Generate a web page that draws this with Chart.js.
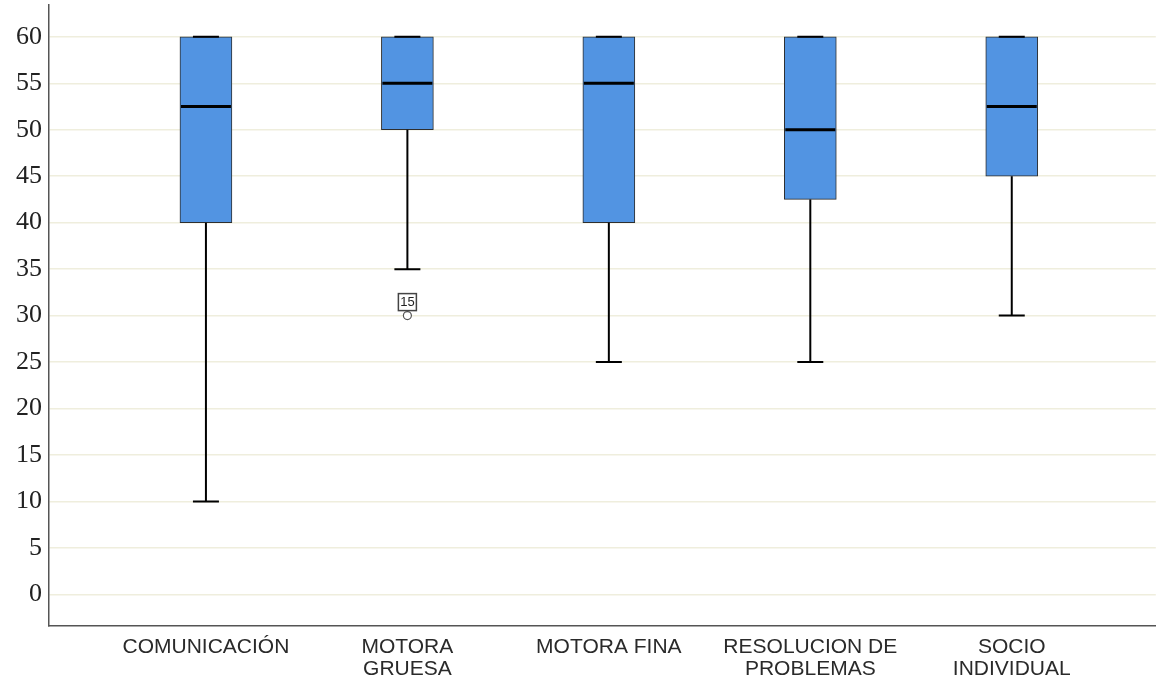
<!DOCTYPE html>
<html>
<head>
<meta charset="utf-8">
<script src="https://cdn.jsdelivr.net/npm/chart.js@4"></script>
<style>
  html, body { margin: 0; padding: 0; background: #fff; overflow: hidden; }
  #wrap { width: 1161px; height: 681px; }
</style>
</head>
<body>
<div id="wrap"><canvas id="box"></canvas></div>
<script>
const categories = ['COMUNICACIÓN', ['MOTORA', 'GRUESA'], 'MOTORA FINA', ['RESOLUCION DE', 'PROBLEMAS'], ['SOCIO', 'INDIVIDUAL']];
const minVals = [10, 35, 25, 25, 30];
const q1Vals = [40, 50, 40, 42.5, 45];
const medianVals = [52.5, 55, 55, 50, 52.5];
const q3Vals = [60, 60, 60, 60, 60];
const maxVals = [60, 60, 60, 60, 60];
// outliers: category index, value, case label
const outliers = [{ cat: 1, value: 30, label: '15' }];
const yTicks = [0, 5, 10, 15, 20, 25, 30, 35, 40, 45, 50, 55, 60];

// whiskers, caps, medians and outlier labels
const boxExtras = {
  id: 'boxExtras',
  afterDatasetsDraw(chart) {
    const ctx = chart.ctx;
    const xs = chart.scales.x, ys = chart.scales.y;
    const meta = chart.getDatasetMeta(0);
    ctx.save();
    categories.forEach((c, i) => {
      const x = xs.getPixelForValue(i);
      const half = meta.data[i].width / 2;
      const cap = half / 2;
      ctx.strokeStyle = '#000';
      ctx.lineWidth = 2;
      ctx.beginPath();
      ctx.moveTo(x, ys.getPixelForValue(q1Vals[i]));
      ctx.lineTo(x, ys.getPixelForValue(minVals[i]));
      ctx.moveTo(x, ys.getPixelForValue(q3Vals[i]));
      ctx.lineTo(x, ys.getPixelForValue(maxVals[i]));
      ctx.stroke();
      ctx.beginPath();
      ctx.moveTo(x - cap, ys.getPixelForValue(minVals[i]));
      ctx.lineTo(x + cap, ys.getPixelForValue(minVals[i]));
      ctx.moveTo(x - cap, ys.getPixelForValue(maxVals[i]));
      ctx.lineTo(x + cap, ys.getPixelForValue(maxVals[i]));
      ctx.stroke();
      ctx.lineWidth = 3;
      ctx.beginPath();
      const my = ys.getPixelForValue(medianVals[i]);
      ctx.moveTo(x - half + 1, my);
      ctx.lineTo(x + half - 1, my);
      ctx.stroke();
    });
    outliers.forEach(o => {
      const x = xs.getPixelForValue(o.cat);
      const y = ys.getPixelForValue(o.value) - 13;
      ctx.fillStyle = '#fff';
      ctx.fillRect(x - 9, y - 9, 18, 17);
      ctx.strokeStyle = '#444';
      ctx.lineWidth = 1.5;
      ctx.strokeRect(x - 9, y - 9, 18, 17);
      ctx.fillStyle = '#222';
      ctx.font = '13px "Liberation Sans", Arial, sans-serif';
      ctx.textAlign = 'center';
      ctx.textBaseline = 'middle';
      ctx.fillText(o.label, x, y);
    });
    ctx.restore();
  }
};

new Chart(document.getElementById('box'), {
  type: 'bar',
  data: {
    datasets: [
      {
        type: 'bar',
        data: categories.map((c, i) => ({ x: i, y: [q1Vals[i], q3Vals[i]] })),
        backgroundColor: '#5294e2',
        borderColor: '#2e2e2e',
        borderWidth: 1,
        borderSkipped: false,
        barThickness: 52
      },
      {
        type: 'scatter',
        data: outliers.map(o => ({ x: o.cat, y: o.value })),
        pointStyle: 'circle',
        pointRadius: 4,
        pointBorderWidth: 1.2,
        backgroundColor: '#fff',
        borderColor: '#555'
      }
    ]
  },
  options: {
    responsive: true,
    maintainAspectRatio: false,
    animation: false,
    layout: { padding: { top: 5, right: 0, left: 0, bottom: 0 } },
    plugins: { legend: { display: false }, tooltip: { enabled: false } },
    scales: {
      x: {
        type: 'linear',
        offset: false,
        min: -0.779,
        max: 4.715,
        afterBuildTicks: s => { s.ticks = categories.map((c, i) => ({ value: i })); },
        afterFit: s => { s.height = 55; s.paddingLeft = 0; s.paddingRight = 0; },
        grid: { display: false, drawTicks: false },
        border: { color: '#555', width: 1.5 },
        ticks: {
          autoSkip: false,
          maxRotation: 0,
          padding: 10,
          color: '#2a2a2a',
          font: { family: '"Liberation Sans", Arial, sans-serif', size: 21, lineHeight: 1.05 },
          callback: v => categories[v]
        }
      },
      y: {
        min: -3.4,
        max: 63.4,
        afterBuildTicks: s => { s.ticks = yTicks.map(v => ({ value: v })); },
        afterFit: s => { s.width = 49; s.paddingTop = 0; s.paddingBottom = 0; },
        grid: { color: '#efeedd', lineWidth: 1.5, drawTicks: false },
        border: { color: '#555', width: 1.5 },
        ticks: {
          padding: 7,
          color: '#222',
          font: { family: '"Liberation Serif", "Times New Roman", serif', size: 26 }
        }
      }
    }
  },
  plugins: [boxExtras]
});
</script>
</body>
</html>
